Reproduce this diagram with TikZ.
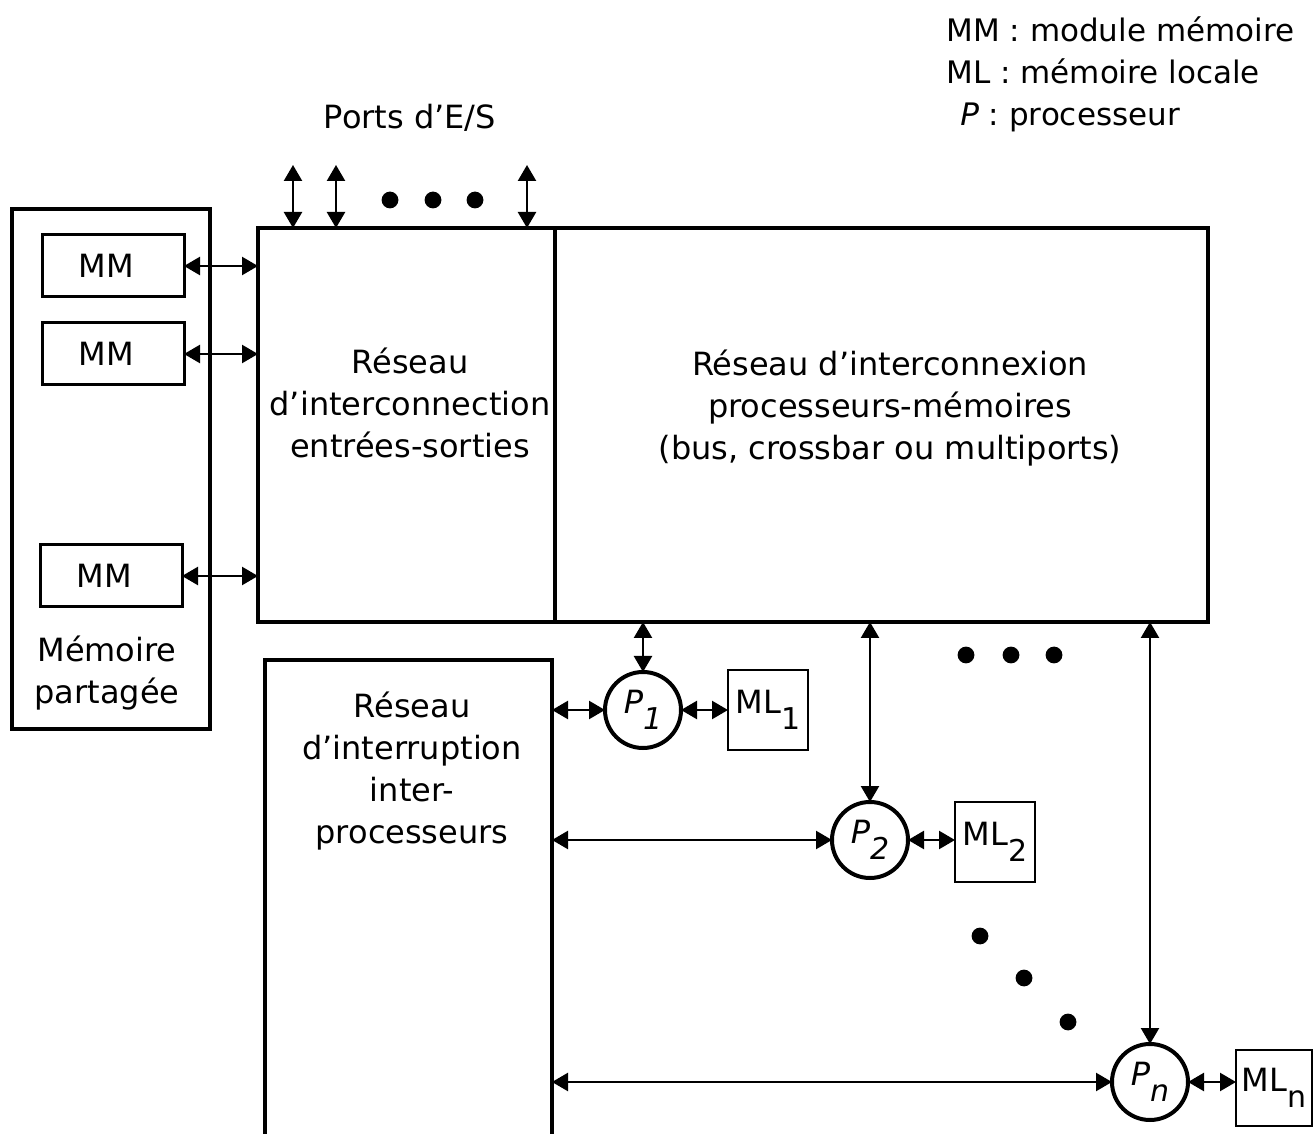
\documentclass[tikz,border=0pt]{standalone}
\usepackage{fontspec}
\setmainfont{DejaVu Sans}
\usepackage{tikz}
\usetikzlibrary{arrows.meta,positioning}
\newcommand{\lowidx}[1]{\raisebox{-8pt}{\fontsize{15}{15}\selectfont #1}}
\tikzset{
  netbox/.style={draw,line width=2pt,outer sep=0pt,inner sep=0pt},
  mmbox/.style={draw,line width=1.5pt,outer sep=0pt,minimum width=71pt,minimum height=31pt},
  mlbox/.style={draw,line width=1.3pt,outer sep=0pt,minimum width=40pt,minimum height=40pt,inner sep=0pt},
  procnode/.style={draw,circle,line width=2pt,outer sep=0pt,minimum size=38pt,inner sep=0pt},
  linkarrow/.style={{Triangle[length=8pt,width=9pt]}-{Triangle[length=8pt,width=9pt]},line width=1.2pt},
  textblock/.style={align=center,inner sep=0pt},
}
\begin{document}
\begin{tikzpicture}[x=0.5pt,y=-0.5pt,font=\fontsize{16}{21}\selectfont]
  \useasboundingbox (0,0) rectangle (1314,1134);
  % memoire partagee
  \node[netbox,minimum width=99pt,minimum height=260pt] (shmem) at (111,469) {};
  \node[mmbox] (mm1) at (113,266) {MM\hspace*{7pt}};
  \node[mmbox] (mm2) at (113,354) {MM\hspace*{7pt}};
  \node[mmbox] (mm3) at (111,576) {MM\hspace*{7pt}};
  \node[textblock] (shmemtext) at (107,673) {Mémoire\\partagée};
  % reseaux
  \node[netbox,minimum width=148.5pt,minimum height=197pt] (ionet) at (406.5,425) {};
  \node[netbox,minimum width=326.5pt,minimum height=197pt] (pmnet) at (881.5,425) {};
  \node[textblock] (iotext) at (410,403) {Réseau\\d'interconnection\\entrées-sorties};
  \node[textblock] (pmtext) at (890,408) {Réseau d'interconnexion\\processeurs-mémoires\\(bus, crossbar ou multiports)};
  \node[outer sep=0pt,inner sep=0pt,minimum width=143.5pt,minimum height=237pt] (irq) at (408.5,897) {};
  \draw[line width=2pt] (irq.south west) |- (irq.north east) -- (irq.south east);
  \node[textblock] (irqtext) at (412,771) {Réseau\\d'interruption\\inter-\\processeurs};
  \node[textblock] (portstext) at (410,118) {Ports d'E/S};
  \node[textblock,anchor=west,align=left,font=\fontsize{15.5}{21}\selectfont] (legend) at (946,74) {MM : module mémoire\\ML : mémoire locale\\\hspace*{7pt}\textit{P} : processeur};
  % processeurs
  \node[procnode] (p1) at (643,710) {\textit{P\lowidx{1}}};
  \node[procnode] (p2) at (870,840) {\textit{P\lowidx{2}}};
  \node[procnode] (pn) at (1150,1082) {\textit{P\lowidx{n}}};
  \node[mlbox] (ml1) at (768,710) {ML\lowidx{1}};
  \node[mlbox] (ml2) at (995,842) {ML\lowidx{2}};
  \node[mlbox,minimum width=38pt,minimum height=38pt] (mln) at (1274,1088) {ML\lowidx{n}};
  % liaisons
  \foreach \m in {mm1,mm2,mm3} \draw[linkarrow] (\m.east) -- (\m.east -| ionet.west);
  \foreach \i/\x in {1/293,2/336,3/527} {
    \coordinate (port\i) at (\x,165);
    \draw[linkarrow] (port\i) -- (port\i |- ionet.north);
  }
  \foreach \p/\q in {p1/ml1,p2/ml2,pn/mln} {
    \draw[linkarrow] (\p.north) -- (\p |- pmnet.south);
    \draw[linkarrow] (\p.west) -- (\p -| irq.east);
    \draw[linkarrow] (\p.east) -- (\p.east -| \q.west);
  }
  % points de suspension
  \foreach \x in {390,433,475} \fill (\x,200) circle (4.2pt);
  \foreach \x in {966,1011,1054} \fill (\x,655) circle (4.2pt);
  \foreach \x/\y in {980/936,1024/978,1068/1022} \fill (\x,\y) circle (4.2pt);
\end{tikzpicture}
\end{document}
